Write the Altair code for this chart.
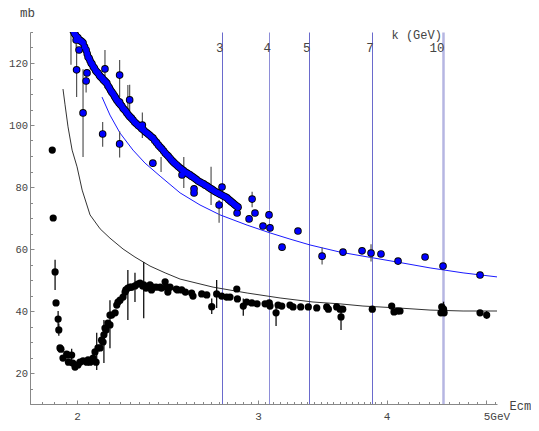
import altair as alt
import pandas as pd

# ---------------- data ----------------
x_domain = [1.8, 5.122]
y_domain = [10, 130]

# blue (upper) data points: Ecm [GeV], sigma [mb]
blue_E = [1.982, 1.988, 1.993, 1.999, 2.004, 2.010, 2.015, 2.021, 2.027, 2.034, 2.041, 2.046, 2.050, 2.055, 2.059,
          2.064, 2.068, 2.074, 2.079, 2.085, 2.091, 2.097, 2.103, 2.109, 2.115, 2.121, 2.126, 2.132, 2.138, 2.144,
          2.150, 2.156, 2.162, 2.168, 2.174, 2.180, 2.186, 2.192, 2.198, 2.205, 2.211, 2.217, 2.223, 2.230,
          2.236, 2.244, 2.251, 2.259, 2.267, 2.276, 2.285, 2.294, 2.303, 2.312, 2.321, 2.330,
          2.339, 2.347, 2.355, 2.363, 2.371, 2.380, 2.390, 2.400, 2.409, 2.418, 2.428, 2.437, 2.447, 2.455,
          2.464, 2.472, 2.481, 2.490, 2.500, 2.509,
          2.519, 2.528, 2.538, 2.548, 2.558, 2.566, 2.575, 2.584, 2.593, 2.603, 2.613, 2.623, 2.634, 2.644,
          2.655, 2.665, 2.676, 2.685, 2.694, 2.703,
          2.712, 2.722, 2.733, 2.744, 2.755, 2.765, 2.776, 2.787, 2.798, 2.807, 2.817, 2.826, 2.836, 2.844,
          2.852, 2.860, 2.868,
          1.996, 1.998, 2.009, 2.027, 2.041, 2.045, 2.118, 2.129, 2.178, 2.200,
          2.200, 2.200, 2.250, 2.315, 2.370, 2.530, 2.599, 2.599, 2.767, 2.749,
          2.862, 2.960, 2.979, 2.940, 3.074, 3.081, 3.033, 3.165, 3.280, 3.462,
          3.628, 3.786, 3.863, 3.950, 4.104, 4.360, 4.539, 4.931]
blue_mb = [130.5, 129.6, 129.0, 128.4, 128.1, 127.4, 127.2, 126.9, 126.5, 125.2, 124.2, 123.0, 121.9, 121.5, 120.8,
           120.0, 119.7, 118.8, 118.4, 117.6, 117.1, 116.7, 116.0, 115.5, 115.2, 114.6, 114.3, 113.9, 113.5, 112.6,
           112.0, 111.2, 110.6, 110.1, 109.4, 108.7, 108.1, 107.6, 107.0, 106.5, 106.1, 105.4, 105.0, 104.5,
           103.9, 103.2, 102.7, 102.2, 101.6, 100.9, 100.4, 99.8, 99.4, 98.8, 98.4, 97.8,
           97.4, 97.0, 96.6, 96.1, 95.8, 95.0, 94.3, 93.5, 92.9, 92.3, 91.6, 90.9, 90.3, 89.8,
           89.2, 88.6, 88.1, 87.6, 87.1, 86.6,
           86.1, 85.7, 85.3, 84.8, 84.5, 84.2, 83.9, 83.5, 83.2, 82.8, 82.4, 81.9, 81.6, 81.3,
           81.0, 80.6, 80.3, 79.9, 79.6, 79.3,
           79.0, 78.6, 78.3, 78.0, 77.7, 77.4, 77.1, 76.8, 76.5, 76.0, 75.6, 75.2, 74.8, 74.4,
           74.1, 73.8, 73.5,
           127.4, 117.8, 124.2, 103.9, 114.2, 116.8, 97.1, 118.1, 109.0, 107.4,
           116.1, 93.9, 108.1, 100.0, 87.7, 83.9, 79.4, 78.1, 80.0, 74.2,
           71.6, 76.1, 71.6, 69.7, 71.0, 66.8, 67.4, 60.6, 65.8, 57.7,
           59.0, 59.4, 58.7, 58.4, 56.1, 57.4, 54.5, 51.6]

blue_err_E = [1.973, 1.996, 1.998, 2.027, 2.041, 2.118, 2.129, 2.200, 2.200, 2.250,
              2.315, 2.241, 2.414, 2.540, 2.700, 2.749, 2.960, 3.462, 3.863]
blue_err_lo = [119.4, 124.0, 109.0, 89.7, 110.5, 93.0, 112.0, 109.0, 89.5, 102.3,
               95.8, 103.9, 84.8, 79.7, 74.2, 68.5, 73.5, 55.0, 56.0]
blue_err_hi = [130.3, 131.0, 126.0, 118.0, 118.0, 101.0, 124.2, 121.0, 98.0, 113.0,
               104.0, 112.9, 89.7, 89.7, 86.5, 75.8, 78.5, 60.5, 61.5]

# black (lower) data points
black_E = [1.892, 1.896, 1.904, 1.908, 1.917, 1.920, 1.925, 1.929, 1.938, 1.954,
           1.960, 1.962, 1.976, 1.981, 1.991, 2.004, 2.013, 2.027, 2.044, 2.050,
           2.059, 2.073, 2.082, 2.087, 2.096, 2.106, 2.113, 2.120, 2.124, 2.129,
           2.134, 2.143, 2.153, 2.153, 2.161, 2.178, 2.186, 2.192, 2.202, 2.217,
           2.227, 2.231, 2.241, 2.252, 2.259, 2.277, 2.291, 2.303, 2.317, 2.322,
           2.334, 2.355, 2.363, 2.369, 2.387, 2.409, 2.416, 2.436, 2.445, 2.451,
           2.463, 2.498, 2.505, 2.549,
           2.528, 2.585, 2.593, 2.644, 2.674, 2.704, 2.734, 2.765, 2.796, 2.817,
           2.860, 2.864, 2.902, 2.924, 2.958, 2.993, 3.047, 3.076, 3.081, 3.123,
           3.137, 3.163, 3.222, 3.244, 3.300, 3.357, 3.421, 3.498, 3.511, 3.577,
           3.604, 3.612, 3.626, 3.874, 4.046, 4.067, 4.100, 4.122, 4.526, 4.518,
           4.550, 4.544, 4.931, 5.005]
black_mb = [91.9, 70.0, 52.6, 42.6, 37.4, 33.9, 28.1, 27.7, 24.8, 26.1,
            25.8, 23.5, 25.8, 23.2, 21.9, 22.6, 23.5, 23.9, 23.5, 24.2,
            23.5, 24.8, 26.8, 23.5, 28.1, 28.1, 30.6, 30.0, 32.3, 34.5,
            33.9, 36.1, 35.5, 38.7, 38.7, 39.4, 41.9, 42.9, 43.5, 44.5,
            46.1, 46.8, 47.4, 47.7, 47.7, 48.1, 48.7, 49.0, 48.1, 48.4,
            47.4, 48.4, 46.8, 47.7, 47.7, 47.7, 47.4, 49.4, 47.7, 46.1,
            47.7, 47.1, 46.8, 46.1,
            46.8, 45.8, 44.8, 45.5, 45.2, 41.4, 45.5, 44.8, 44.5, 44.5,
            47.1, 43.9, 41.6, 42.9, 42.6, 42.3, 42.3, 42.6, 41.6, 39.4,
            41.9, 41.6, 41.9, 41.3, 41.3, 41.3, 41.0, 41.3, 40.6, 41.3,
            40.6, 38.1, 40.6, 40.6, 41.6, 39.7, 40.0, 40.0, 41.3, 39.4,
            39.4, 40.6, 39.4, 38.7]

black_err_E = [1.904, 1.917, 1.920, 1.976, 2.090, 2.124, 2.153, 2.241, 2.277, 2.322,
               2.704, 2.734, 2.902, 3.123, 3.612, 4.544, 5.005]
black_err_lo = [46.8, 35.0, 32.0, 23.8, 21.0, 23.2, 28.0, 37.1, 42.9, 37.7,
                39.0, 41.0, 38.5, 35.2, 33.9, 39.0, 37.5]
black_err_hi = [56.5, 40.0, 36.0, 27.8, 33.0, 37.1, 43.5, 53.2, 52.3, 55.8,
                44.0, 50.0, 44.0, 42.6, 41.6, 43.0, 40.0]

# fitted curves
blue_fit_E = [2.115, 2.153, 2.202, 2.267, 2.329, 2.409, 2.519, 2.634, 2.755, 2.927,
              3.081, 3.222, 3.370, 3.604, 3.794, 4.095, 4.409, 4.747, 5.122]
blue_fit_mb = [109.0, 103.2, 97.4, 91.9, 87.7, 83.5, 78.1, 74.2, 71.0, 67.7,
               65.2, 63.2, 61.3, 59.0, 57.7, 55.8, 53.9, 52.3, 51.0]
black_fit_E = [1.938, 1.947, 1.960, 1.978, 2.000, 2.023, 2.059, 2.106, 2.153, 2.217,
               2.277, 2.355, 2.436, 2.519, 2.712, 2.927, 3.151, 3.392, 3.604, 3.794,
               4.095, 4.409, 4.747, 5.122]
black_fit_mb = [111.6, 106.5, 99.4, 91.9, 86.5, 79.0, 71.0, 66.5, 63.5, 60.0,
                57.4, 54.5, 52.3, 50.3, 47.7, 45.8, 44.2, 42.9, 42.3, 41.6,
                41.0, 40.3, 40.0, 40.0]

# photon lab energies k (GeV) and the matching Ecm positions
k_labels = ["3", "4", "5", "7", "10"]
k_Ecm = [2.767, 3.077, 3.362, 3.874, 4.539]

# axis ticks
x_major = [2, 3, 4, 5]
x_minor = [round(1.8 + 0.05 * i, 2) for i in range(45)] + [round(4.1 + 0.1 * i, 1) for i in range(11)]
y_major = [20, 40, 60, 80, 100, 120]
y_minor = list(range(10, 131, 5))

# ---------------- chart ----------------
FONT = "Liberation Mono"
FS = 12.5
AX = "#888888"
TXT = "#444444"

xs = alt.Scale(type="log", domain=x_domain, nice=False)
ys = alt.Scale(domain=y_domain, nice=False, zero=False)

blue_df = pd.DataFrame({"E": blue_E, "mb": blue_mb})
black_df = pd.DataFrame({"E": black_E, "mb": black_mb})
berr_df = pd.DataFrame({"E": blue_err_E, "lo": blue_err_lo, "hi": blue_err_hi})
kerr_df = pd.DataFrame({"E": black_err_E, "lo": black_err_lo, "hi": black_err_hi})
bfit_df = pd.DataFrame({"E": blue_fit_E, "mb": blue_fit_mb})
kfit_df = pd.DataFrame({"E": black_fit_E, "mb": black_fit_mb})

main_x = alt.Axis(
    orient="bottom", values=x_major, ticks=False, grid=False,
    domainColor=AX, domainWidth=1,
    labelExpr="datum.value == 5 ? '5GeV' : datum.label",
    labelAlign={"condition": {"test": "datum.value == 5", "value": "left"}, "value": "center"},
    labelOffset={"condition": {"test": "datum.value == 5", "value": -3}, "value": 0},
    labelFont=FONT, labelFontSize=11, labelColor=TXT, labelPadding=6.5, labelBaseline="top",
    title="Ecm", titleFont=FONT, titleFontSize=12, titleFontWeight="normal", titleColor=TXT,
    titleX=479, titleY=1, titleAlign="left", titleBaseline="middle", titleAngle=0,
)
main_y = alt.Axis(
    orient="left", values=y_major, ticks=False, grid=False,
    domainColor=AX, domainWidth=1,
    labelFont=FONT, labelFontSize=10.5, labelColor=TXT, labelPadding=2.5,
    title="mb", titleFont=FONT, titleFontSize=FS, titleFontWeight="normal", titleColor=TXT,
    titleAngle=0, titleX=-3, titleY=-20, titleAlign="center", titleBaseline="middle",
)
major_x = alt.Axis(orient="bottom", values=x_major, offset=-4, tickSize=4, tickColor=AX,
                   labels=False, domain=False, grid=False, title=None)
major_y = alt.Axis(orient="left", values=y_major, offset=-4, tickSize=4, tickColor=AX,
                   labels=False, domain=False, grid=False, title=None)
minor_x = alt.Axis(orient="bottom", values=x_minor, offset=-2.5, tickSize=2.5, tickColor=AX,
                   labels=False, domain=False, grid=False, title=None)
minor_y = alt.Axis(orient="left", values=y_minor, offset=-2.5, tickSize=2.5, tickColor=AX,
                   labels=False, domain=False, grid=False, title=None)

k_expr = "".join(f"abs(datum.value - {e}) < 0.001 ? '{l}' : " for e, l in zip(k_Ecm, k_labels)) + "''"
k_axis = alt.Axis(
    orient="top", values=k_Ecm, ticks=False, domain=False, grid=True,
    gridColor={"condition": [{"test": "datum.value > 4.5", "value": "#b6b6e2"},
                             {"test": "datum.value > 3.0 && datum.value < 3.2", "value": "#8e8ed8"}],
               "value": "#6a6acc"},
    gridWidth={"condition": {"test": "datum.value > 4.5", "value": 2.5}, "value": 1},
    labelExpr=k_expr, labelAlign="right", labelOffset=1, labelPadding=-22,
    labelFont=FONT, labelFontSize=FS, labelColor=TXT, labelBaseline="bottom",
    title="k (GeV)", titleFont=FONT, titleFontSize=12, titleFontWeight="normal", titleColor=TXT,
    titleX=361, titleY=6, titleAlign="left", titleBaseline="alphabetic", titleAngle=0,
)

black_fit = alt.Chart(kfit_df).mark_line(color="#333333", strokeWidth=1, clip=True).encode(
    x=alt.X("E:Q", scale=xs, axis=main_x),
    y=alt.Y("mb:Q", scale=ys, axis=main_y),
)
blue_fit = alt.Chart(bfit_df).mark_line(color="#1a1aff", strokeWidth=1, clip=True).encode(
    x=alt.X("E:Q", scale=xs, axis=major_x),
    y=alt.Y("mb:Q", scale=ys, axis=major_y),
)
blue_err = alt.Chart(berr_df).mark_rule(color="#555555", strokeWidth=1.2, clip=True).encode(
    x=alt.X("E:Q", scale=xs, axis=minor_x),
    y=alt.Y("lo:Q", scale=ys, axis=minor_y),
    y2="hi:Q",
)
black_err = alt.Chart(kerr_df).mark_rule(color="#111111", strokeWidth=1.3, clip=True).encode(
    x=alt.X("E:Q", scale=xs, axis=k_axis),
    y=alt.Y("lo:Q", scale=ys, axis=None),
    y2="hi:Q",
)
black_pts = alt.Chart(black_df).mark_circle(color="#000000", size=52, opacity=1, clip=True).encode(
    x=alt.X("E:Q", scale=xs, axis=None),
    y=alt.Y("mb:Q", scale=ys, axis=None),
)
# blue markers: a black disc underneath, then the blue fill on top (outline only at the edges)
blue_ring = alt.Chart(blue_df).mark_circle(color="#000000", size=58, opacity=1, clip=True).encode(
    x=alt.X("E:Q", scale=xs, axis=None),
    y=alt.Y("mb:Q", scale=ys, axis=None),
)
blue_fill = alt.Chart(blue_df).mark_circle(color="#0000ff", size=33, opacity=1, clip=True).encode(
    x=alt.X("E:Q", scale=xs, axis=None),
    y=alt.Y("mb:Q", scale=ys, axis=None),
)

chart = alt.layer(black_fit, blue_fit, blue_err, black_err, black_pts, blue_ring, blue_fill).resolve_axis(
    x="independent", y="independent"
).properties(
    width=467, height=372,
    autosize=alt.AutoSizeParams(type="none"),
    padding={"left": 22, "top": 24, "right": 34, "bottom": 19},
).configure_view(stroke=None)

chart.save("out.html", embed_options={"renderer": "svg", "actions": False})
